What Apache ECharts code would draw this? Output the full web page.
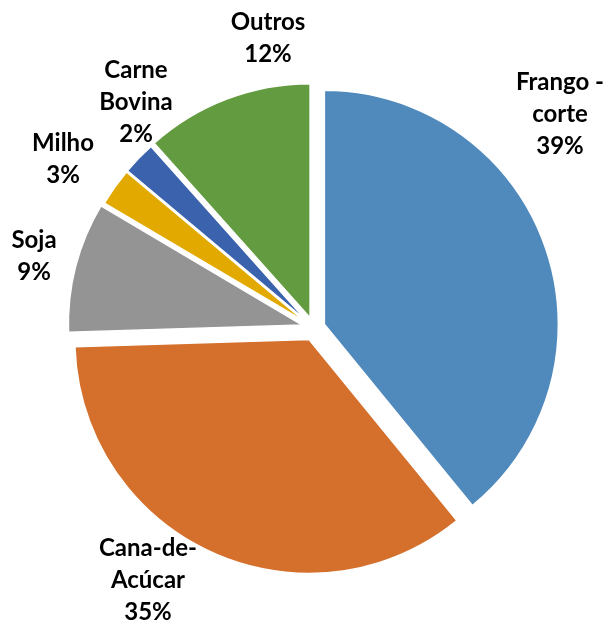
<!DOCTYPE html>
<html><head><meta charset="utf-8">
<script src="https://cdn.jsdelivr.net/npm/echarts@6/dist/echarts.min.js"></script>
<style>html,body{margin:0;padding:0;background:#fff}#c{width:608px;height:623px}</style>
</head><body><div id="c"></div>
<script>
// ---- data ----
const categories = ['Frango - corte', 'Cana-de-Acúcar', 'Soja', 'Milho', 'Carne Bovina', 'Outros'];
const shares = [39.1, 35.4, 9.0, 2.6, 2.3, 11.6];
const colors = ['#508ABD', '#D46F2C', '#949494', '#E2AA00', '#3B63AD', '#639B40'];
const wrappedNames = ['Frango -\ncorte', 'Cana-de-\nAcúcar', 'Soja', 'Milho', 'Carne\nBovina', 'Outros'];

// ---- layout ----
const CENTER = [314, 328];
const RADIUS = 234;
const explode = [11, 12.5, 12, 10, 10, 11];
const labelPos = [[560, 114], [148, 580], [34, 256], [63, 159], [136, 102], [268, 38]];

const chart = echarts.init(document.getElementById('c'), null, {renderer: 'canvas'});

const total = shares.reduce((a, b) => a + b, 0);

const series = categories.map((name, i) => ({
  type: 'pie',
  center: CENTER,
  radius: RADIUS,
  startAngle: 90,
  clockwise: true,
  avoidLabelOverlap: false,
  selectedMode: 'single',
  selectedOffset: explode[i],
  animation: false,
  silent: true,
  emphasis: {disabled: true},
  labelLine: {show: false},
  label: {show: false},
  data: categories.map((n, j) => ({
    name: n,
    value: shares[j],
    selected: j === i,
    itemStyle: j === i
      ? {color: colors[j], borderColor: '#ffffff', borderWidth: 1.5}
      : {color: 'rgba(0,0,0,0)', borderWidth: 0}
  }))
}));

const labels = categories.map((n, i) => ({
  type: 'text',
  x: labelPos[i][0],
  y: labelPos[i][1],
  silent: true,
  style: {
    text: wrappedNames[i] + '\n' + Math.round(shares[i] / total * 100) + '%',
    font: 'bold 24px Lato',
    lineHeight: 32,
    fill: '#000',
    align: 'center',
    verticalAlign: 'middle'
  }
}));

chart.setOption({
  backgroundColor: '#ffffff',
  animation: false,
  series: series,
  graphic: {elements: labels}
});
</script>
</body></html>
